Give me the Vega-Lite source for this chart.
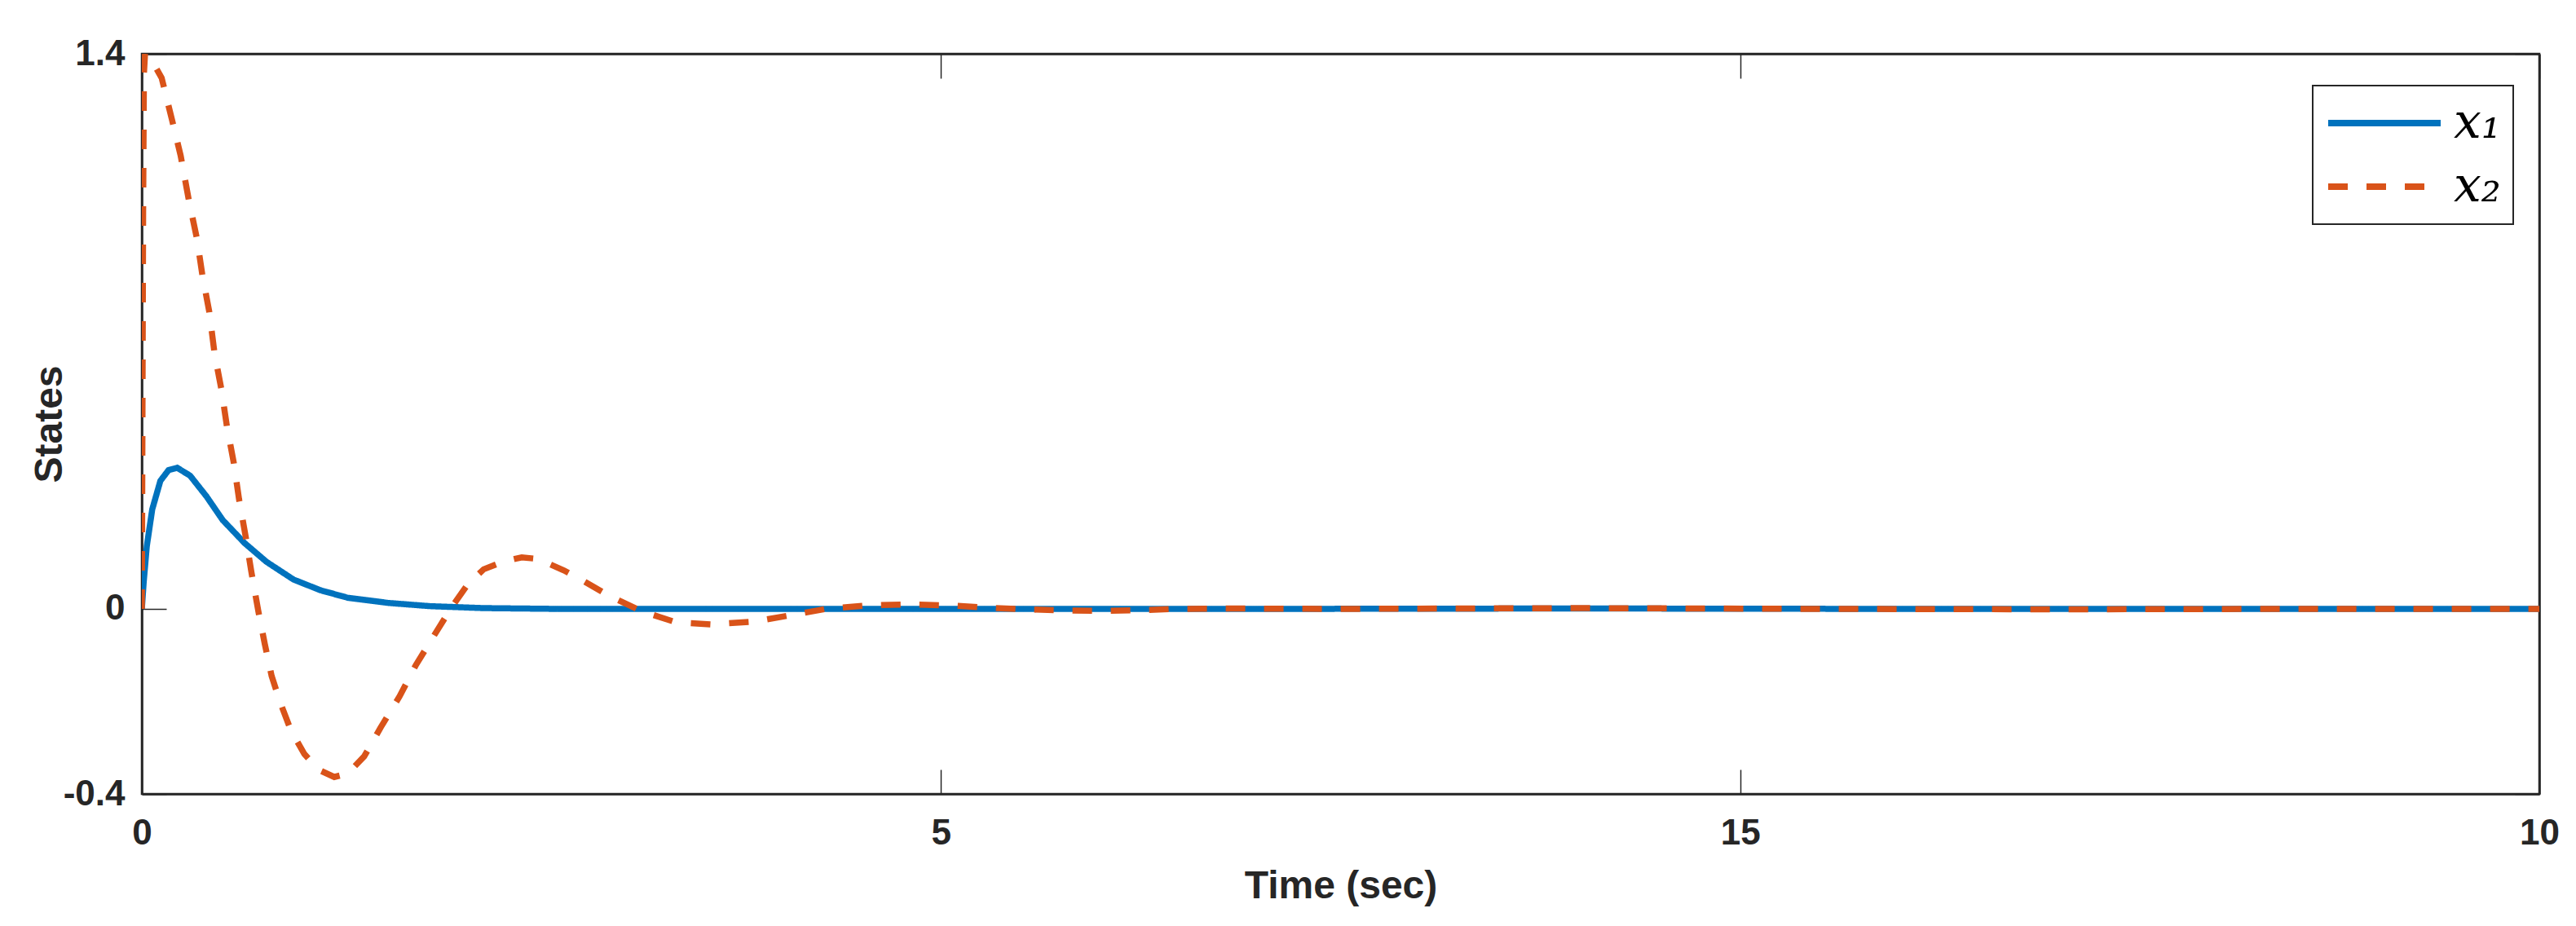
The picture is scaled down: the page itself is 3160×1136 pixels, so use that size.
{
  "$schema": "https://vega.github.io/schema/vega-lite/v6.json",
  "width": 2941,
  "height": 908,
  "autosize": "none",
  "padding": {"left": 174, "top": 66, "right": 45, "bottom": 162},
  "background": "white",
  "config": {
    "view": {"stroke": "#262626", "strokeWidth": 2.5},
    "axis": {
      "domainColor": "#262626", "domainWidth": 2.5,
      "labelFont": "Liberation Sans", "labelFontWeight": "bold", "labelFontSize": 44, "labelColor": "#262626",
      "titleFont": "Liberation Sans", "titleFontWeight": "bold", "titleFontSize": 48, "titleColor": "#262626",
      "tickColor": "#262626", "tickWidth": 1.5, "tickSize": -30, "grid": false,
      "labelFlush": false, "labelOverlap": false
    },
    "legend": {
      "orient": "none", "legendX": 2663, "legendY": 39,
      "padding": 15, "strokeColor": "#262626", "strokeWidth": 2, "fillColor": "white",
      "symbolSize": 19044, "symbolStrokeWidth": 8, "symbolType": "stroke",
      "clipHeight": 62, "rowPadding": 16, "labelOffset": 12,
      "labelFont": "DejaVu Serif", "labelFontStyle": "italic", "labelFontSize": 60, "labelColor": "black",
      "labelLimit": 300
    }
  },
  "data": {
    "values": [
      {"t": 0, "v": 0, "s": "x₁"},
      {"t": 0.012, "v": 0.07, "s": "x₁"},
      {"t": 0.031, "v": 0.158, "s": "x₁"},
      {"t": 0.065, "v": 0.251, "s": "x₁"},
      {"t": 0.116, "v": 0.323, "s": "x₁"},
      {"t": 0.167, "v": 0.35, "s": "x₁"},
      {"t": 0.221, "v": 0.356, "s": "x₁"},
      {"t": 0.302, "v": 0.336, "s": "x₁"},
      {"t": 0.404, "v": 0.284, "s": "x₁"},
      {"t": 0.506, "v": 0.224, "s": "x₁"},
      {"t": 0.643, "v": 0.166, "s": "x₁"},
      {"t": 0.779, "v": 0.119, "s": "x₁"},
      {"t": 0.949, "v": 0.074, "s": "x₁"},
      {"t": 1.118, "v": 0.047, "s": "x₁"},
      {"t": 1.289, "v": 0.028, "s": "x₁"},
      {"t": 1.544, "v": 0.015, "s": "x₁"},
      {"t": 1.799, "v": 0.007, "s": "x₁"},
      {"t": 2.137, "v": 0.002, "s": "x₁"},
      {"t": 2.6, "v": 0.0, "s": "x₁"},
      {"t": 3.5, "v": 0.0, "s": "x₁"},
      {"t": 5, "v": 0.0, "s": "x₁"},
      {"t": 7, "v": 0.0, "s": "x₁"},
      {"t": 9, "v": 0.001, "s": "x₁"},
      {"t": 11, "v": 0.0, "s": "x₁"},
      {"t": 13, "v": 0.0, "s": "x₁"},
      {"t": 15, "v": 0.0, "s": "x₁"},
      {"t": 0, "v": 0, "s": "x₂"},
      {"t": 0.004, "v": 0.5, "s": "x₂"},
      {"t": 0.008, "v": 1.0, "s": "x₂"},
      {"t": 0.013, "v": 1.35, "s": "x₂"},
      {"t": 0.02, "v": 1.4, "s": "x₂"},
      {"t": 0.06, "v": 1.385, "s": "x₂"},
      {"t": 0.124, "v": 1.339, "s": "x₂"},
      {"t": 0.192, "v": 1.228, "s": "x₂"},
      {"t": 0.243, "v": 1.143, "s": "x₂"},
      {"t": 0.294, "v": 1.031, "s": "x₂"},
      {"t": 0.345, "v": 0.933, "s": "x₂"},
      {"t": 0.379, "v": 0.841, "s": "x₂"},
      {"t": 0.422, "v": 0.749, "s": "x₂"},
      {"t": 0.455, "v": 0.644, "s": "x₂"},
      {"t": 0.498, "v": 0.553, "s": "x₂"},
      {"t": 0.532, "v": 0.461, "s": "x₂"},
      {"t": 0.575, "v": 0.369, "s": "x₂"},
      {"t": 0.608, "v": 0.277, "s": "x₂"},
      {"t": 0.651, "v": 0.179, "s": "x₂"},
      {"t": 0.685, "v": 0.094, "s": "x₂"},
      {"t": 0.728, "v": -0.004, "s": "x₂"},
      {"t": 0.77, "v": -0.09, "s": "x₂"},
      {"t": 0.812, "v": -0.169, "s": "x₂"},
      {"t": 0.864, "v": -0.234, "s": "x₂"},
      {"t": 0.932, "v": -0.306, "s": "x₂"},
      {"t": 1.017, "v": -0.366, "s": "x₂"},
      {"t": 1.102, "v": -0.405, "s": "x₂"},
      {"t": 1.204, "v": -0.424, "s": "x₂"},
      {"t": 1.289, "v": -0.415, "s": "x₂"},
      {"t": 1.391, "v": -0.372, "s": "x₂"},
      {"t": 1.493, "v": -0.3, "s": "x₂"},
      {"t": 1.612, "v": -0.221, "s": "x₂"},
      {"t": 1.714, "v": -0.142, "s": "x₂"},
      {"t": 1.833, "v": -0.064, "s": "x₂"},
      {"t": 1.935, "v": 0.002, "s": "x₂"},
      {"t": 2.037, "v": 0.061, "s": "x₂"},
      {"t": 2.139, "v": 0.1, "s": "x₂"},
      {"t": 2.258, "v": 0.119, "s": "x₂"},
      {"t": 2.377, "v": 0.13, "s": "x₂"},
      {"t": 2.479, "v": 0.126, "s": "x₂"},
      {"t": 2.641, "v": 0.097, "s": "x₂"},
      {"t": 2.739, "v": 0.076, "s": "x₂"},
      {"t": 2.914, "v": 0.035, "s": "x₂"},
      {"t": 3.129, "v": -0.006, "s": "x₂"},
      {"t": 3.344, "v": -0.034, "s": "x₂"},
      {"t": 3.558, "v": -0.039, "s": "x₂"},
      {"t": 3.831, "v": -0.032, "s": "x₂"},
      {"t": 4.085, "v": -0.014, "s": "x₂"},
      {"t": 4.281, "v": 0.0, "s": "x₂"},
      {"t": 4.554, "v": 0.009, "s": "x₂"},
      {"t": 4.808, "v": 0.011, "s": "x₂"},
      {"t": 5.042, "v": 0.009, "s": "x₂"},
      {"t": 5.295, "v": 0.003, "s": "x₂"},
      {"t": 5.529, "v": -0.001, "s": "x₂"},
      {"t": 5.763, "v": -0.004, "s": "x₂"},
      {"t": 5.998, "v": -0.005, "s": "x₂"},
      {"t": 6.252, "v": -0.003, "s": "x₂"},
      {"t": 6.486, "v": 0.0, "s": "x₂"},
      {"t": 6.739, "v": 0.001, "s": "x₂"},
      {"t": 7.5, "v": 0.0, "s": "x₂"},
      {"t": 9.0, "v": 0.002, "s": "x₂"},
      {"t": 10.5, "v": 0.0, "s": "x₂"},
      {"t": 12.0, "v": -0.001, "s": "x₂"},
      {"t": 13.5, "v": 0.0, "s": "x₂"},
      {"t": 15, "v": 0.0, "s": "x₂"}
    ]
  },
  "layer": [
    {
      "mark": {"type": "line", "strokeWidth": 7.5, "strokeCap": "butt", "clip": true},
      "encoding": {
        "x": {
          "field": "t", "type": "quantitative",
          "scale": {"domain": [0, 15], "nice": false, "zero": false},
          "axis": {
            "orient": "bottom", "title": "Time (sec)", "values": [0, 5, 10, 15],
            "labelExpr": "datum.value == 10 ? '15' : datum.value == 15 ? '10' : datum.label",
            "labelPadding": 56, "titlePadding": 19
          }
        },
        "y": {
          "field": "v", "type": "quantitative",
          "scale": {"domain": [-0.4667, 1.4], "nice": false, "zero": false},
          "axis": {
            "orient": "left", "title": "States", "values": [-0.4667, 0, 1.4],
            "labelExpr": "datum.value < -0.1 ? '-0.4' : datum.value == 0 ? '0' : datum.label",
            "labelPadding": 51, "titlePadding": -8
          }
        },
        "color": {
          "field": "s", "type": "nominal",
          "scale": {"domain": ["x₁", "x₂"], "range": ["#0072BD", "#D95319"]},
          "legend": {"title": null}
        },
        "strokeDash": {
          "field": "s", "type": "nominal",
          "scale": {"domain": ["x₁", "x₂"], "range": [[1, 0], [24, 23]]},
          "legend": {"title": null}
        }
      }
    },
    {
      "mark": {"type": "line", "opacity": 0},
      "encoding": {
        "x": {
          "field": "t", "type": "quantitative",
          "axis": {"orient": "top", "title": null, "labels": false, "values": [0, 5, 10, 15]}
        },
        "y": {
          "field": "v", "type": "quantitative",
          "axis": {"orient": "right", "title": null, "labels": false, "values": [-0.4667, 0, 1.4]}
        },
        "detail": {"field": "s", "type": "nominal"}
      }
    }
  ]
}
